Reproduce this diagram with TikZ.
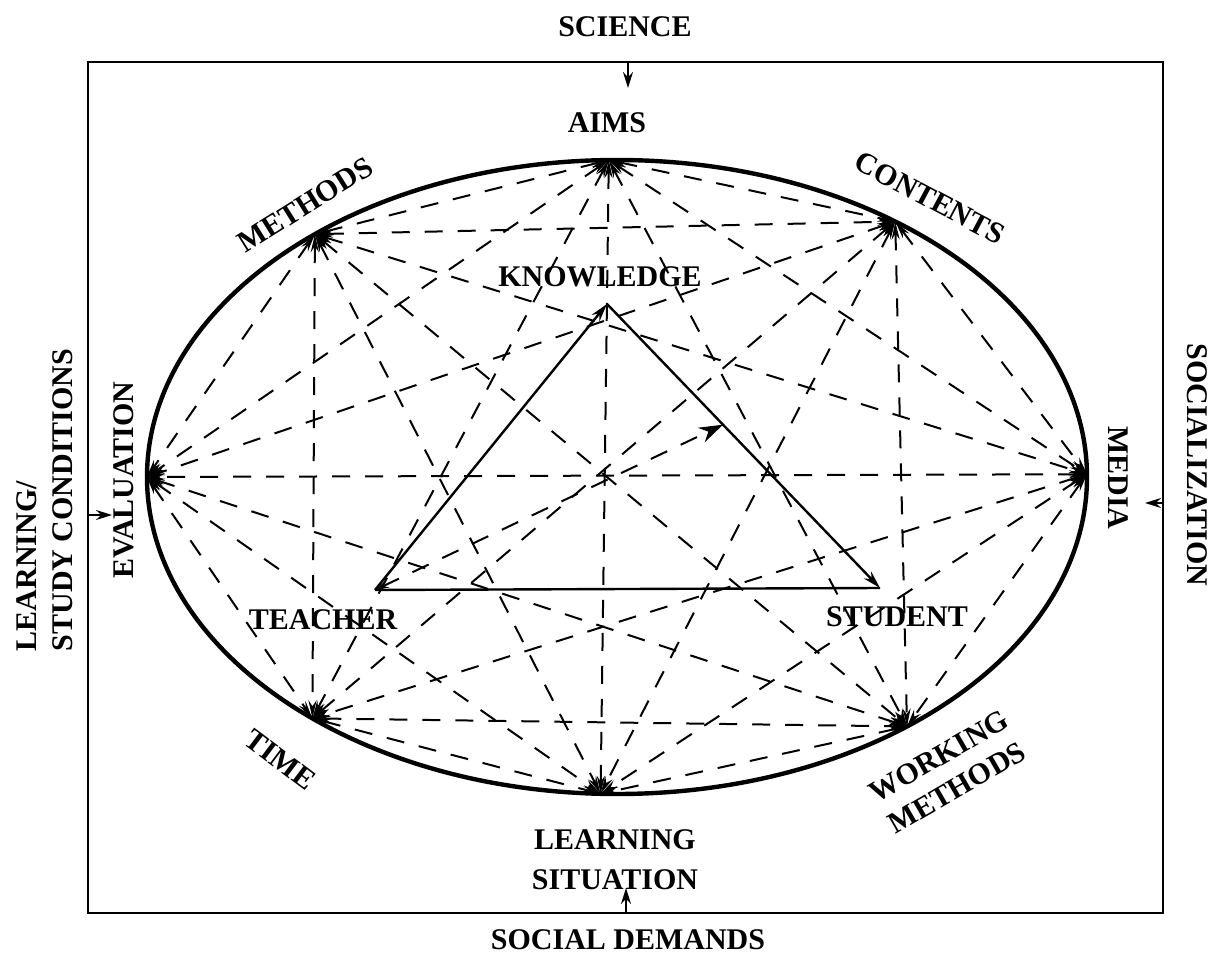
\documentclass[tikz,border=0pt]{standalone}
\usepackage{fontspec}
\setmainfont{Liberation Serif}
\usetikzlibrary{arrows.meta,calc}
\begin{document}
\begin{tikzpicture}[x=0.5pt,y=-0.5pt,
 lbl/.style={font=\fontsize{15}{18}\selectfont\bfseries, inner sep=0pt, align=center},
 dl/.style={line width=1pt, dash pattern=on 9pt off 7.5pt, {Stealth[length=9pt,width=4pt]}-{Stealth[length=9pt,width=4pt]}},
 ell/.style={line width=2.2pt},
 tri/.style={line width=1.2pt},
 frame/.style={line width=1.4pt},
 inarrow/.style={line width=1pt, -{Stealth[length=8pt,width=5pt]}},
]
\useasboundingbox (0,0) rectangle (1221,956);
% frame
\draw[frame] (88,62) rectangle (1163,913);
% ellipse
\draw[ell] (617,477) ellipse [x radius=235pt, y radius=158.5pt];
% points on ellipse
\coordinate (A) at ({617+470*cos(91)},{477-317*sin(91)});
\coordinate (H) at ({617+470*cos(130)},{477-317*sin(130)});
\coordinate (C) at ({617+470*cos(53.7)},{477-317*sin(53.7)});
\coordinate (M) at ({617+470*cos(0.5)},{477-317*sin(0.5)});
\coordinate (E) at ({617+470*cos(180)},{477-317*sin(180)});
\coordinate (T) at ({617+470*cos(229.6)},{477-317*sin(229.6)});
\coordinate (W) at ({617+470*cos(-51.9)},{477-317*sin(-51.9)});
\coordinate (L) at ({617+470*cos(268)},{477-317*sin(268)});
% complete graph
\foreach \a/\b in {A/H,A/C,A/M,A/E,A/T,A/W,A/L,
                   H/C,H/M,H/E,H/T,H/W,H/L,
                   C/M,C/E,C/T,C/W,C/L,
                   M/E,M/T,M/W,M/L,
                   E/T,E/W,E/L,
                   T/W,T/L,
                   W/L}
  \draw[dl] (\a) -- (\b);
% triangle
\coordinate (K) at (607,304);
\coordinate (Tc) at (375,590);
\coordinate (S) at (880,588);
\draw[tri,-{Stealth[length=9pt,width=5pt]}] (Tc) -- (K);
\draw[tri,-{Stealth[length=9pt,width=5pt]}] (K) -- (S);
\draw[tri] (Tc) -- (S);
\coordinate (X) at ($(K)!0.425!(S)$);
\draw[line width=1pt, dash pattern=on 9pt off 7.5pt, {Stealth[length=7pt,width=4pt]}-{Stealth[length=12pt,width=8pt]}] (Tc) -- (X);
% outer influences
\coordinate (sciF) at (628,62);  \coordinate (sciT) at (628,88);
\coordinate (lscF) at (88,515);  \coordinate (lscT) at (112,515);
\coordinate (socF) at (1163,503); \coordinate (socT) at (1145,503);
\coordinate (sdF) at (626,913);  \coordinate (sdT) at (626,888);
\draw[inarrow] (sciF) -- (sciT);
\draw[inarrow] (lscF) -- (lscT);
\draw[inarrow] (socF) -- (socT);
\draw[inarrow] (sdF) -- (sdT);
% labels
\node[lbl] (sciL) at (625,27) {SCIENCE};
\node[lbl] (aimsL) at (607,123) {AIMS};
\node[lbl,rotate=32] (methL) at (305,205) {METHODS};
\node[lbl,rotate=-28] (contL) at (930,198) {CONTENTS};
\node[lbl] (knowL) at (600,277) {KNOWLEDGE};
\node[lbl,rotate=90] (evalL) at (124,480) {EVALUATION};
\node[lbl,rotate=-90] (mediaL) at (1118,478) {MEDIA};
\node[lbl,rotate=-90] (socL) at (1197,465) {SOCIALIZATION};
\node[lbl,rotate=90,align=left] (lscL) at (45,500) {LEARNING/\\STUDY CONDITIONS};
\node[lbl] (teachL) at (323,620) {TEACHER};
\node[lbl] (studL) at (897,617) {STUDENT};
\node[lbl,rotate=-37] (timeL) at (280,760) {TIME};
\node[lbl,rotate=30] (wmL) at (948,772) {WORKING\\METHODS};
\node[lbl,font=\fontsize{15}{20}\selectfont\bfseries] (lsL) at (615,860) {LEARNING\\SITUATION};
\node[lbl] (sdL) at (628,940) {SOCIAL DEMANDS};
\end{tikzpicture}
\end{document}
